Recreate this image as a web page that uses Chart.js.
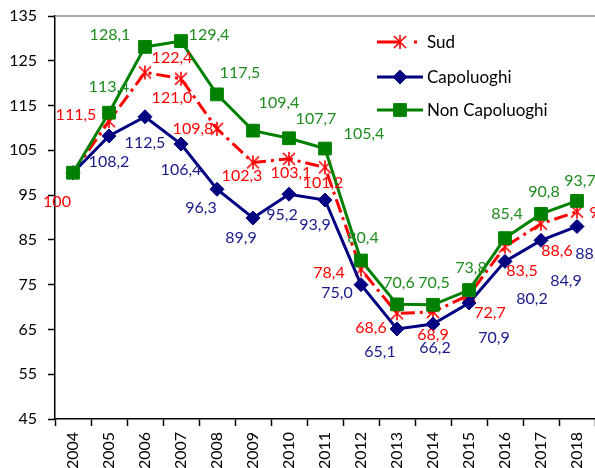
<!DOCTYPE html>
<html>
<head>
<meta charset="utf-8">
<script src="https://cdn.jsdelivr.net/npm/chart.js@4.4.0/dist/chart.umd.min.js"></script>
<style>
  html, body { margin: 0; padding: 0; background: #fff; }
  #wrap { width: 595px; height: 468px; }
</style>
</head>
<body>
<div id="wrap"><canvas id="lineCanvas"></canvas></div>
<script>
var anni = ['2004', '2005', '2006', '2007', '2008', '2009', '2010', '2011',
            '2012', '2013', '2014', '2015', '2016', '2017', '2018'];
var sud = [100, 111.5, 122.4, 121.0, 109.8, 102.3, 103.1, 101.2, 78.4, 68.6, 68.9, 72.7, 83.5, 88.6, 91.3];
var capoluoghi = [100, 108.2, 112.5, 106.4, 96.3, 89.9, 95.2, 93.9, 75.0, 65.1, 66.2, 70.9, 80.2, 84.9, 88.0];
var nonCapoluoghi = [100, 113.4, 128.1, 129.4, 117.5, 109.4, 107.7, 105.4, 80.4, 70.6, 70.5, 73.8, 85.4, 90.8, 93.7];
var yTicks = [45, 55, 65, 75, 85, 95, 105, 115, 125, 135];

// where each value label sits, in px from its point (null = no label)
var sudPos = [[-16, 29], [-33, -6], [27, -15], [-9, 19], [-24, 0], [-11, 13], [2, 14], [-2, 15],
              [-32, 3], [-26, 15], [0, 23], [21, 18], [17, 24], [16, 27], [28, 1]];
var capPos = [null, [0, 26], [0, 26], [0, 26], [-16, 19], [-12, 20], [-7, 21], [-10, 25],
              [-24, 8], [-17, 23], [2, 24], [25, 35], [27, 37], [25, 41], [14, 27]];
var nonCapPos = [null, [0, -26], [-35, -12], [28, -6], [23, -22], [26, -28], [27, -19], [39, -15],
                 [2, -23], [2, -22], [1, -22], [2, -22], [2, -24], [3, -22], [3, -20]];

var fontName = "Lato, 'Liberation Sans', sans-serif";

function fmt(v) {
    if (v === 100) return '100';
    return v.toFixed(1).replace('.', ',');
}

// asterisk marker like the spreadsheet one
var asterisco = document.createElement('canvas');
asterisco.width = 16;
asterisco.height = 16;
(function () {
    var c = asterisco.getContext('2d');
    c.strokeStyle = '#ff0000';
    c.lineWidth = 1.6;
    c.beginPath();
    c.moveTo(8, 1); c.lineTo(8, 15);
    c.moveTo(2, 2); c.lineTo(14, 14);
    c.moveTo(14, 2); c.lineTo(2, 14);
    c.stroke();
})();

var extras = {
    id: 'extras',
    beforeDatasetsDraw: function (chart) {
        var ctx = chart.ctx, a = chart.chartArea;
        ctx.save();
        ctx.strokeStyle = '#8c8c8c';
        ctx.lineWidth = 1.5;
        ctx.beginPath();
        ctx.moveTo(a.left, a.top);
        ctx.lineTo(chart.width, a.top);
        ctx.stroke();
        ctx.restore();
    },
    afterDatasetsDraw: function (chart) {
        var ctx = chart.ctx;
        var posList = [sudPos, capPos, nonCapPos];
        ctx.save();
        ctx.font = '16px ' + fontName;
        ctx.textAlign = 'center';
        ctx.textBaseline = 'middle';
        chart.data.datasets.forEach(function (ds, di) {
            var meta = chart.getDatasetMeta(di);
            ctx.fillStyle = ds.labelColor;
            meta.data.forEach(function (pt, i) {
                var p = posList[di][i];
                if (!p) return;
                ctx.fillText(fmt(ds.data[i]), pt.x + p[0], pt.y + p[1]);
            });
        });

        // legend
        var lx = 377, lw = 46, rows = [42, 77, 110];
        ctx.font = '17px ' + fontName;
        chart.data.datasets.forEach(function (ds, di) {
            var y = rows[di];
            ctx.strokeStyle = ds.borderColor;
            ctx.lineWidth = ds.borderWidth;
            ctx.beginPath();
            if (ds.borderDash) {
                ctx.moveTo(lx, y);
                ctx.lineTo(lx + 22, y);
                ctx.moveTo(lx + 37, y);
                ctx.lineTo(lx + 40, y);
            } else {
                ctx.moveTo(lx, y);
                ctx.lineTo(lx + lw, y);
            }
            ctx.stroke();
            ctx.fillStyle = ds.pointBackgroundColor;
            ctx.strokeStyle = ds.pointBorderColor;
            ctx.lineWidth = ds.pointBorderWidth;
            Chart.helpers.drawPoint(ctx, {
                pointStyle: ds.pointStyle, radius: ds.pointRadius,
                borderWidth: ds.pointBorderWidth, rotation: 0
            }, lx + 23, y);
            ctx.fillStyle = '#000';
            ctx.textAlign = 'left';
            ctx.fillText(ds.label, lx + 50, y + 1);
        });
        ctx.restore();
    }
};

var graphTarget = document.getElementById('lineCanvas');
var lineGraph = new Chart(graphTarget, {
    type: 'line',
    data: {
        labels: anni,
        datasets: [
            {
                label: 'Sud',
                data: sud,
                borderColor: '#ff0000',
                borderWidth: 3,
                borderDash: [14, 5, 3, 5],
                pointStyle: asterisco,
                pointRadius: 8,
                pointBorderWidth: 0,
                pointBorderColor: '#ff0000',
                pointBackgroundColor: '#ff0000',
                labelColor: '#ff0000',
                tension: 0,
                order: 2
            },
            {
                label: 'Capoluoghi',
                data: capoluoghi,
                borderColor: '#000080',
                borderWidth: 3,
                pointStyle: 'rectRot',
                pointRadius: 7,
                pointBorderWidth: 1,
                pointBorderColor: '#000080',
                pointBackgroundColor: '#000080',
                labelColor: '#1a1a8c',
                tension: 0,
                order: 1
            },
            {
                label: 'Non Capoluoghi',
                data: nonCapoluoghi,
                borderColor: '#008000',
                borderWidth: 3,
                pointStyle: 'rect',
                pointRadius: 9,
                pointBorderWidth: 1,
                pointBorderColor: '#008000',
                pointBackgroundColor: '#008000',
                labelColor: '#1e8c1e',
                tension: 0,
                order: 0
            }
        ]
    },
    options: {
        responsive: true,
        maintainAspectRatio: false,
        animation: false,
        layout: { autoPadding: false, padding: { left: 0, top: 16, right: 0, bottom: 0 } },
        plugins: {
            legend: { display: false },
            tooltip: { enabled: false }
        },
        scales: {
            x: {
                type: 'category',
                offset: true,
                afterFit: function (axis) {
                    axis.height = 49;
                    axis.paddingLeft = 0;
                    axis.paddingRight = 0;
                },
                grid: { offset: true, drawOnChartArea: false, tickLength: 7, color: '#000', tickWidth: 1.5 },
                border: { color: '#000', width: 1.5 },
                ticks: {
                    minRotation: 90, maxRotation: 90, padding: 6,
                    color: '#000', font: { family: fontName, size: 16 }
                }
            },
            y: {
                min: 45,
                max: 135,
                afterBuildTicks: function (axis) {
                    axis.ticks = yTicks.map(function (v) { return { value: v }; });
                },
                afterFit: function (axis) {
                    axis.width = 55;
                    axis.paddingTop = 0;
                    axis.paddingBottom = 0;
                },
                grid: { drawOnChartArea: false, tickLength: 7, color: '#000', tickWidth: 1.5 },
                border: { color: '#000', width: 1.5 },
                ticks: {
                    padding: 11,
                    color: '#000', font: { family: fontName, size: 16 }
                }
            }
        }
    },
    plugins: [extras]
});
</script>
</body>
</html>
